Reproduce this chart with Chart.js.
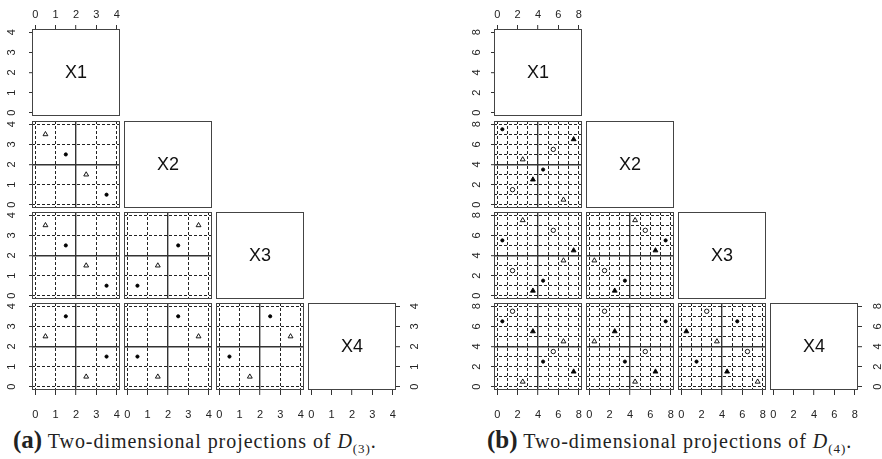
<!DOCTYPE html>
<html>
<head>
<meta charset="utf-8">
<script src="https://cdn.jsdelivr.net/npm/chart.js@4.4.1/dist/chart.umd.min.js"></script>
<style>
  body { margin: 0; background: #fff; }
  #page { position: relative; width: 882px; height: 459px; overflow: hidden; }
  #page canvas { position: absolute; }
  .caption { position: absolute; top: 426px; font-family: "Liberation Serif", serif; font-size: 20px; letter-spacing: 0.95px; color: #222; white-space: nowrap; }
  .caption b { font-size: 25px; letter-spacing: 0; }
  .caption sub { font-size: 13px; }
</style>
</head>
<body>
<div id="page">
  <div class="caption" style="left:13px"><b>(a)</b> Two-dimensional projections of <i>D</i><sub>(3)</sub>.</div>
  <div class="caption" style="left:487px"><b>(b)</b> Two-dimensional projections of <i>D</i><sub>(4)</sub>.</div>
</div>
<script>
const varNames = ['X1', 'X2', 'X3', 'X4'];

// (a) D(3): 4 runs, 2 groups
const aX1 = [0.5, 1.5, 2.5, 3.5];
const aX2 = [3.5, 2.5, 1.5, 0.5];
const aX3 = [3.5, 2.5, 1.5, 0.5];
const aX4 = [2.5, 3.5, 0.5, 1.5];
const aGroup = ['openTri', 'dot', 'openTri', 'dot'];
const aTickLabels = [0, 1, 2, 3, 4];

// (b) D(4): 8 runs, 4 groups
const bX1 = [0.5, 1.5, 2.5, 3.5, 4.5, 5.5, 6.5, 7.5];
const bX2 = [7.5, 1.5, 4.5, 2.5, 3.5, 5.5, 0.5, 6.5];
const bX3 = [5.5, 2.5, 7.5, 0.5, 1.5, 6.5, 3.5, 4.5];
const bX4 = [6.5, 7.5, 0.5, 5.5, 2.5, 3.5, 4.5, 1.5];
const bGroup = ['dot', 'circle', 'openTri', 'tri', 'dot', 'circle', 'openTri', 'tri'];
const bTickLabels = [0, 2, 4, 6, 8];

// point symbols (R pch 20, 1, 2, 17)
const markStyle = {
    dot:     { pointStyle: 'circle',   radius: 1.6, fill: '#000' },
    circle:  { pointStyle: 'circle',   radius: 2.2, fill: '#fff' },
    openTri: { pointStyle: 'triangle', radius: 2.8, fill: '#fff' },
    tri:     { pointStyle: 'triangle', radius: 2.8, fill: '#000' }
};

const M = 30; // room round each panel for its axes
const tickFont = '11px "Liberation Sans", Arial, sans-serif';
const page = document.getElementById('page');

// box round the panel, variable name on the diagonal, and the
// y tick labels turned 90deg like R does (las = 0)
const panelBox = {
    id: 'panelBox',
    afterDraw(chart, args, opts) {
        const a = chart.chartArea, c = chart.ctx;
        c.save();
        c.strokeStyle = '#444';
        c.lineWidth = 1;
        c.strokeRect(a.left + 0.5, a.top + 0.5, a.right - a.left - 1, a.bottom - a.top - 1);
        if (opts.label) {
            c.fillStyle = '#111';
            c.font = '18px "Liberation Sans", Arial, sans-serif';
            c.textAlign = 'center';
            c.textBaseline = 'middle';
            c.fillText(opts.label, (a.left + a.right) / 2, (a.top + a.bottom) / 2 + 1);
        }
        if (opts.ySide) {
            const ys = chart.scales.y;
            const x = opts.ySide === 'left' ? a.left - opts.yOffset : a.right + opts.yOffset;
            c.fillStyle = '#222';
            c.font = tickFont;
            c.textAlign = 'center';
            c.textBaseline = 'middle';
            ys.ticks.forEach(t => {
                if (!opts.tickLabels.includes(t.value)) return;
                c.save();
                c.translate(x, ys.getPixelForValue(t.value));
                c.rotate(-Math.PI / 2);
                c.fillText(String(t.value), 0, 0);
                c.restore();
            });
        }
        c.restore();
    }
};

function axis(f, horizontal, side, diag) {
    const shown = side !== null;
    const mid = f.max / 2;
    const tickLen = { top: 4, bottom: 5, left: 3, right: 4 }[side] || 0;
    const pad = { top: 3, bottom: 13 }[side] || 0;
    return {
        type: 'linear',
        position: side || (horizontal ? 'bottom' : 'left'),
        min: -f.ext,
        max: f.max + f.ext,
        afterFit(s) {
            if (horizontal) s.height = shown ? M : 0;
            else s.width = shown ? M : 0;
            s.paddingLeft = s.paddingRight = s.paddingTop = s.paddingBottom = 0;
        },
        border: {
            display: false,
            dash: ctx => (ctx.tick && ctx.tick.value === mid) ? [] : [3, 2]
        },
        grid: {
            drawOnChartArea: !diag,
            drawTicks: shown,
            tickLength: tickLen,
            tickWidth: 1,
            color: ctx => (ctx.tick && ctx.tick.value === mid) ? '#333' : '#222',
            lineWidth: ctx => (ctx.tick && ctx.tick.value === mid) ? 1.4 : 1,
            tickColor: ctx => (ctx.tick && f.tickLabels.includes(ctx.tick.value)) ? '#333' : 'rgba(0,0,0,0)'
        },
        ticks: {
            display: shown && horizontal,
            stepSize: 1,
            includeBounds: false,
            autoSkip: false,
            maxRotation: 0,
            padding: pad,
            color: '#222',
            font: { family: '"Liberation Sans", Arial, sans-serif', size: 11 },
            callback: v => f.tickLabels.includes(v) ? String(v) : ''
        }
    };
}

function addPanel(f, r, c) {
    const diag = r === c;
    let xSide = null, ySide = null;
    if (diag && r === 0) { xSide = 'top'; ySide = 'left'; }
    if (diag && r === 3) { xSide = 'bottom'; ySide = 'right'; }
    if (!diag) {
        if (r === 3) xSide = 'bottom';
        if (c === 0) ySide = 'left';
    }

    const canvas = document.createElement('canvas');
    canvas.width = f.w + 2 * M;
    canvas.height = f.h + 2 * M;
    canvas.style.left = (f.colX[c] - M) + 'px';
    canvas.style.top = (f.rowY[r] - M) + 'px';
    page.appendChild(canvas);

    const xs = f.cols[c], ys = f.cols[r];
    const points = diag ? [] : xs.map((x, i) => ({ x: x, y: ys[i] }));
    const st = f.group.map(g => markStyle[g]);

    new Chart(canvas.getContext('2d'), {
        type: 'scatter',
        data: {
            datasets: [{
                data: points,
                pointStyle: st.map(s => s.pointStyle),
                radius: st.map(s => s.radius),
                backgroundColor: st.map(s => s.fill),
                borderColor: '#000',
                borderWidth: 0.9
            }]
        },
        options: {
            responsive: false,
            animation: false,
            events: [],
            layout: {
                padding: {
                    left: ySide === 'left' ? 0 : M,
                    right: ySide === 'right' ? 0 : M,
                    top: xSide === 'top' ? 0 : M,
                    bottom: xSide === 'bottom' ? 0 : M
                }
            },
            plugins: {
                legend: { display: false },
                tooltip: { enabled: false },
                panelBox: {
                    label: diag ? varNames[r] : null,
                    ySide: ySide,
                    yOffset: ySide === 'left' ? f.leftOff : f.rightOff,
                    tickLabels: f.tickLabels
                }
            },
            scales: {
                x: axis(f, true, xSide, diag),
                y: axis(f, false, ySide, diag)
            }
        },
        plugins: [panelBox]
    });
}

const figA = {
    colX: [32, 124, 216, 308], rowY: [29, 121, 212, 303], w: 88, h: 87,
    max: 4, ext: 0.16, tickLabels: aTickLabels, leftOff: 20, rightOff: 19,
    cols: [aX1, aX2, aX3, aX4], group: aGroup
};
const figB = {
    colX: [494, 586, 678, 770], rowY: [29, 121, 212, 303], w: 88, h: 87,
    max: 8, ext: 0.32, tickLabels: bTickLabels, leftOff: 17, rightOff: 19.5,
    cols: [bX1, bX2, bX3, bX4], group: bGroup
};

[figA, figB].forEach(f => {
    for (let r = 0; r < 4; r++) {
        for (let c = 0; c <= r; c++) addPanel(f, r, c);
    }
});
</script>
</body>
</html>
